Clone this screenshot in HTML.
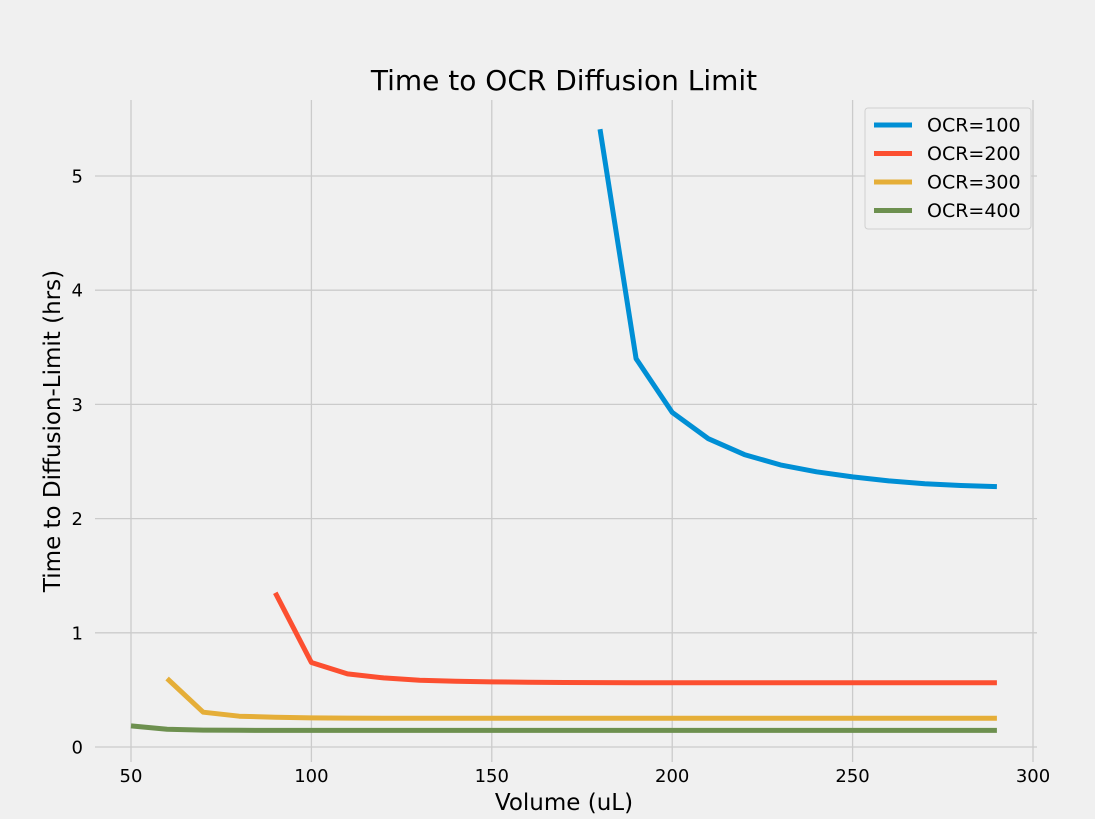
<!DOCTYPE html>
<html><head><meta charset="utf-8"><style>
html,body{margin:0;padding:0;background:#f0f0f0;}
svg{display:block;font-family:"DejaVu Sans","Liberation Sans",sans-serif;}
</style></head><body>
<svg id="chart" width="1095" height="819"></svg>
<script>
const xTicks=[50,100,150,200,250,300];
const yTicks=[0,1,2,3,4,5];
const seriesNames=["OCR=100","OCR=200","OCR=300","OCR=400"];
const seriesStart=[180,90,60,50];
const ocr100=[5.41,3.40,2.93,2.70,2.56,2.47,2.41,2.365,2.33,2.305,2.29,2.28];
const ocr200=[1.35,0.74,0.64,0.605,0.585,0.575,0.57,0.567,0.565,0.564,0.563,0.563,0.563,0.563,0.563,0.563,0.563,0.563,0.563,0.563,0.563];
const ocr300=[0.60,0.305,0.27,0.26,0.255,0.253,0.252,0.252,0.252,0.252,0.252,0.252,0.252,0.252,0.252,0.252,0.252,0.252,0.252,0.252,0.252,0.252,0.252,0.252];
const ocr400=[0.185,0.155,0.148,0.146,0.145,0.145,0.145,0.145,0.145,0.145,0.145,0.145,0.145,0.145,0.145,0.145,0.145,0.145,0.145,0.145,0.145,0.145,0.145,0.145,0.145];
const colors=["#008fd5","#fc4f30","#e5ae38","#6d904f"];
const allSeries=[ocr100,ocr200,ocr300,ocr400];

const NS="http://www.w3.org/2000/svg";
const svg=document.getElementById("chart");
const L=95,R=1037,T=100,B=762;
const xS=v=>131+(v-50)*(1033-131)/250;
const yS=v=>747-v*(747-176)/5;
function mk(tag,attrs,parent){const e=document.createElementNS(NS,tag);for(const k in attrs)e.setAttribute(k,attrs[k]);(parent||svg).appendChild(e);return e;}

const grid=mk("g",{});


xTicks.forEach(t=>{
  const l=mk("line",{x1:xS(t),x2:xS(t),y1:T,y2:B,stroke:"#cbcbcb","stroke-width":1.3},grid);
  
  
  const tx=mk("text",{x:xS(t),y:782,"text-anchor":"middle","font-size":18,fill:"#000"});
  tx.textContent=t;
  
  
});
yTicks.forEach(t=>{
  const l=mk("line",{x1:L,x2:R,y1:yS(t),y2:yS(t),stroke:"#cbcbcb","stroke-width":1.3},grid);
  
  
  const tx=mk("text",{x:83,y:yS(t)+6.5,"text-anchor":"end","font-size":18,fill:"#000"});
  tx.textContent=t;
  
  
});

allSeries.forEach((s,i)=>{
  const pts=s.map((v,j)=>xS(seriesStart[i]+10*j).toFixed(1)+","+yS(v).toFixed(1)).join(" ");
  const p=mk("polyline",{points:pts,fill:"none",stroke:colors[i],"stroke-width":5,"stroke-linejoin":"round"});
  
  
});

const title=mk("text",{x:564,y:90,"text-anchor":"middle","font-size":28,fill:"#000"});
title.textContent="Time to OCR Diffusion Limit";


const xl=mk("text",{x:564,y:810,"text-anchor":"middle","font-size":23,fill:"#000"});
xl.textContent="Volume (uL)";


const yl=mk("text",{x:0,y:0,"text-anchor":"middle","font-size":23,fill:"#000",transform:"translate(60,431) rotate(-90)"});
yl.textContent="Time to Diffusion-Limit (hrs)";



const lg=mk("g",{});


mk("rect",{x:865,y:108,width:166,height:121,rx:3,fill:"#f0f0f0",stroke:"#d0d0d0","stroke-width":1},lg);
seriesNames.forEach((n,i)=>{
  const y=125+i*28.5;
  const l=mk("line",{x1:874,x2:912,y1:y,y2:y,stroke:colors[i],"stroke-width":5},lg);
  
  
  const t=mk("text",{x:927,y:y+6.5,"font-size":19,fill:"#000"},lg);
  t.textContent=n;
  
  
});
</script>
</body></html>
